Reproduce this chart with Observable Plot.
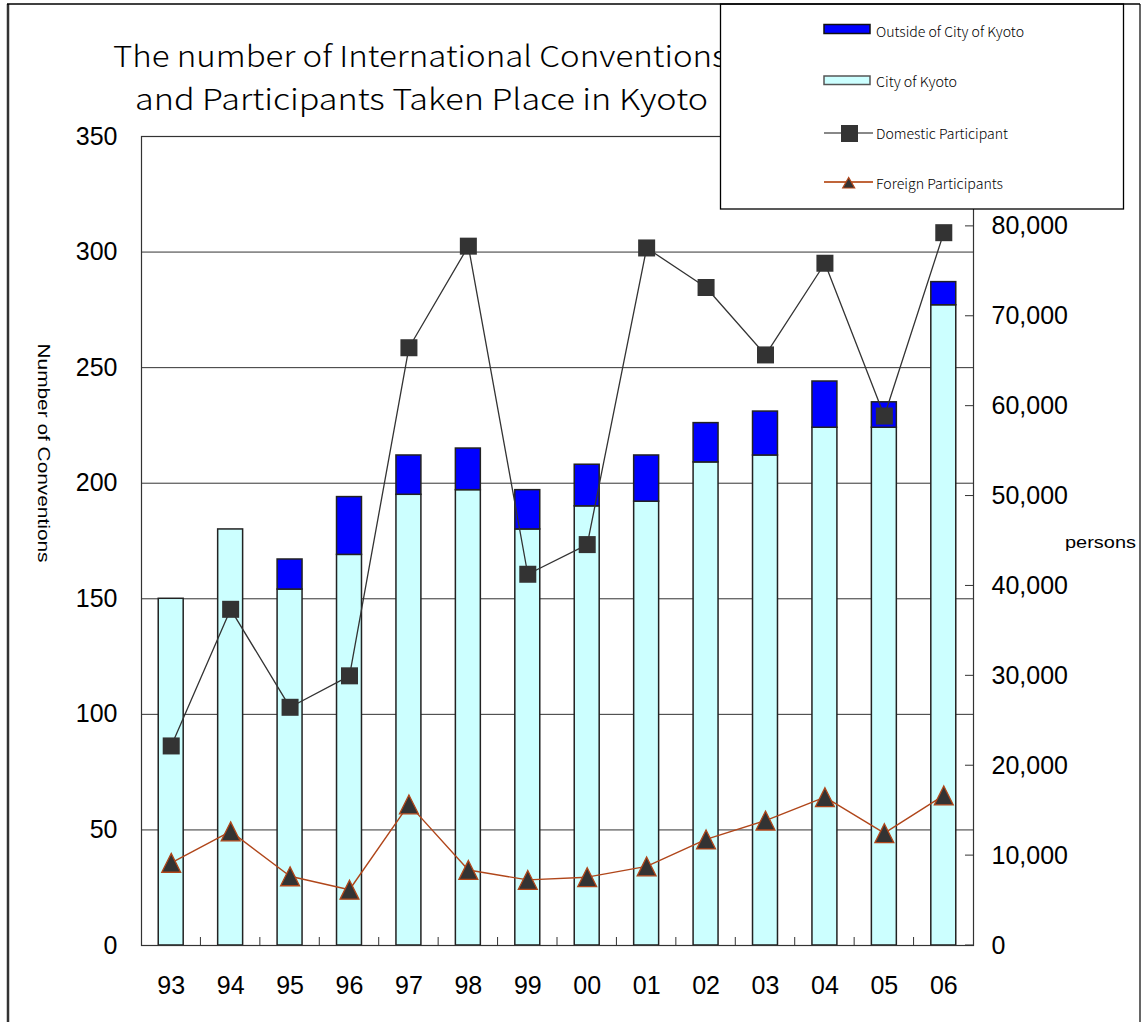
<!DOCTYPE html>
<html>
<head>
<meta charset="utf-8">
<script src="https://cdn.jsdelivr.net/npm/d3@7"></script>
<script src="https://cdn.jsdelivr.net/npm/@observablehq/plot@0.6"></script>
<style>
  html, body { margin: 0; padding: 0; background: #fff; }
  #chart { width: 1147px; height: 1022px; }
</style>
</head>
<body>
<div id="chart"></div>
<script>
// Fiscal years (two-digit)
const years = ["93", "94", "95", "96", "97", "98", "99", "00", "01", "02", "03", "04", "05", "06"];

// Number of international conventions
const cityOfKyoto    = [150, 180, 154, 169, 195, 197, 180, 190, 192, 209, 212, 224, 224, 277];
const outsideOfKyoto = [  0,   0,  13,  25,  17,  18,  17,  18,  20,  17,  19,  20,  11,  10];

// Participants (persons)
const domesticParticipants = [22200, 37400, 26500, 30000, 66500, 77800, 41300, 44600, 77600, 73200, 65700, 75900, 58900, 79300];
const foreignParticipants  = [ 9200, 12700,  7700,  6200, 15700,  8400,  7300,  7600,  8800, 11800, 13900, 16500, 12500, 16700];

// Axis ticks
const conventionTicks = [0, 50, 100, 150, 200, 250, 300, 350];
const personTicks = [0, 10000, 20000, 30000, 40000, 50000, 60000, 70000, 80000];
const personMax = 90000;

const parts = ["City of Kyoto", "Outside of City of Kyoto"];
const partColors = ["#CCFFFF", "#0000FF"];
const domesticColor = "#333333";
const foreignColor = "#B0461A";

// persons are drawn against the left scale: 0–90,000 spans 0–350
const K = 350 / personMax;

const bars = years.flatMap((year, i) => [
  {year, part: parts[0], value: cityOfKyoto[i]},
  {year, part: parts[1], value: outsideOfKyoto[i]}
]).filter(d => d.value > 0);

const participants = years.map((year, i) => ({
  year, domestic: domesticParticipants[i], foreign: foreignParticipants[i]
}));

// triangle marker centred on its bounding box
const triangle = {
  draw(context, size) {
    const s = Math.sqrt(size) * 0.62;
    context.moveTo(0, -s);
    context.lineTo(s, s);
    context.lineTo(-s, s);
    context.closePath();
  }
};

const numFont = "'Liberation Sans', Arial, sans-serif";

const chart = Plot.plot({
  width: 1147,
  height: 1022,
  marginLeft: 141,
  marginRight: 174,
  marginTop: 136,
  marginBottom: 77,
  style: {fontFamily: numFont, background: "#fff", color: "#000"},
  x: {domain: years, paddingInner: 0.58, paddingOuter: 0.29, round: false, label: null},
  y: {domain: [0, 350], label: null},
  color: {domain: parts, range: partColors},
  marks: [
    Plot.ruleY(conventionTicks, {stroke: "#333", strokeWidth: 1}),
    Plot.barY(bars, {x: "year", y: "value", fill: "part", stroke: "#222", strokeWidth: 1.5}),
    Plot.frame({stroke: "#333", strokeWidth: 1.2}),
    Plot.axisY(conventionTicks, {anchor: "left", tickSize: 0, tickPadding: 24, fontSize: 25, label: null}),
    Plot.axisY(personTicks.map(v => v * K), {
      anchor: "right", tickSize: 0, tickPadding: 18, fontSize: 25, label: null,
      tickFormat: v => d3.format(",")(Math.round(v / K))
    }),
    Plot.axisX({tickSize: 0, tickPadding: 31, fontSize: 25, label: null}),
    Plot.line(participants, {x: "year", y: d => d.domestic * K, stroke: domesticColor, strokeWidth: 1.3}),
    Plot.line(participants, {x: "year", y: d => d.foreign * K, stroke: foreignColor, strokeWidth: 1.4}),
    Plot.dot(participants, {x: "year", y: d => d.domestic * K, symbol: "square", r: 9.6, fill: domesticColor, stroke: "none"}),
    Plot.dot(participants, {x: "year", y: d => d.foreign * K, symbol: triangle, r: 8.6, fill: "#333", stroke: foreignColor, strokeWidth: 1.3})
  ]
});

const svg = d3.select(chart);
const xs = chart.scale("x");
const ys = chart.scale("y");
const [xLeft, xRight] = xs.range;
const yBottom = ys.apply(0);

// category separators on the bottom axis (pointing up)
const ticks = svg.append("g").attr("stroke", "#333").attr("stroke-width", 1);
for (let i = 0; i < years.length - 1; i++) {
  const bx = (xs.apply(years[i]) + xs.bandwidth + xs.apply(years[i + 1])) / 2;
  ticks.append("line").attr("x1", bx).attr("x2", bx).attr("y1", yBottom).attr("y2", yBottom - 8);
}
// inward ticks on the persons axis
for (const v of personTicks) {
  const ty = ys.apply(v * K);
  ticks.append("line").attr("x1", xRight - 8).attr("x2", xRight).attr("y1", ty).attr("y2", ty);
}

// axis titles
svg.append("text")
  .attr("transform", "translate(38,453) rotate(90)")
  .attr("text-anchor", "middle")
  .attr("font-family", numFont)
  .attr("font-size", 17)
  .attr("textLength", 219)
  .attr("lengthAdjust", "spacingAndGlyphs")
  .text("Number of Conventions");

svg.append("text")
  .attr("x", 1065).attr("y", 548)
  .attr("text-anchor", "start")
  .attr("font-family", numFont)
  .attr("font-size", 17)
  .attr("textLength", 71)
  .attr("lengthAdjust", "spacingAndGlyphs")
  .text("persons");

// title
const titleFont = "'Noto Sans CJK JP', 'Noto Sans', sans-serif";
const title = svg.append("g").attr("font-family", titleFont).attr("font-size", 29)
  .attr("font-weight", 300).attr("fill", "#000").attr("text-anchor", "start");
title.append("text").attr("x", 113).attr("y", 67)
  .attr("textLength", 614).attr("lengthAdjust", "spacingAndGlyphs")
  .text("The number of International Conventions");
title.append("text").attr("x", 135).attr("y", 110)
  .attr("textLength", 573).attr("lengthAdjust", "spacingAndGlyphs")
  .text("and Participants Taken Place in Kyoto");

// legend box
const lg = svg.append("g").attr("font-family", titleFont).attr("font-size", 13.5)
  .attr("font-weight", 300).attr("text-anchor", "start");
lg.append("rect").attr("x", 720.5).attr("y", 4).attr("width", 403).attr("height", 205)
  .attr("fill", "#fff").attr("stroke", "#000").attr("stroke-width", 1.3);

lg.append("rect").attr("x", 824).attr("y", 24.5).attr("width", 46).attr("height", 9)
  .attr("fill", partColors[1]).attr("stroke", "#111").attr("stroke-width", 1.5);
lg.append("text").attr("x", 876).attr("y", 36.5).attr("textLength", 148).attr("lengthAdjust", "spacingAndGlyphs")
  .text("Outside of City of Kyoto");

lg.append("rect").attr("x", 824).attr("y", 76).attr("width", 46).attr("height", 8.5)
  .attr("fill", partColors[0]).attr("stroke", "#555").attr("stroke-width", 1.5);
lg.append("text").attr("x", 876).attr("y", 86.5).attr("textLength", 81).attr("lengthAdjust", "spacingAndGlyphs")
  .text("City of Kyoto");

lg.append("line").attr("x1", 824).attr("x2", 873).attr("y1", 133).attr("y2", 133)
  .attr("stroke", "#888").attr("stroke-width", 2);
lg.append("rect").attr("x", 841).attr("y", 125).attr("width", 17).attr("height", 17).attr("fill", domesticColor);
lg.append("text").attr("x", 876).attr("y", 138.5).attr("textLength", 132).attr("lengthAdjust", "spacingAndGlyphs")
  .text("Domestic Participant");

lg.append("line").attr("x1", 824).attr("x2", 873).attr("y1", 182).attr("y2", 182)
  .attr("stroke", "#C0653A").attr("stroke-width", 2);
lg.append("path").attr("d", "M848.7,177.5L854.7,188L842.7,188Z")
  .attr("fill", "#333").attr("stroke", foreignColor).attr("stroke-width", 1.2);
lg.append("text").attr("x", 876).attr("y", 188.5).attr("textLength", 127).attr("lengthAdjust", "spacingAndGlyphs")
  .text("Foreign Participants");

// page border
const border = svg.append("g").attr("fill", "none");
border.append("line").attr("x1", 8).attr("x2", 8).attr("y1", 4).attr("y2", 1022).attr("stroke", "#333").attr("stroke-width", 2.5);
border.append("line").attr("x1", 7).attr("x2", 1140).attr("y1", 4).attr("y2", 4).attr("stroke", "#000").attr("stroke-width", 1.5);
border.append("line").attr("x1", 1140).attr("x2", 1140).attr("y1", 4).attr("y2", 1022).attr("stroke", "#000").attr("stroke-width", 1.2);

document.getElementById("chart").appendChild(chart);
</script>
</body>
</html>
